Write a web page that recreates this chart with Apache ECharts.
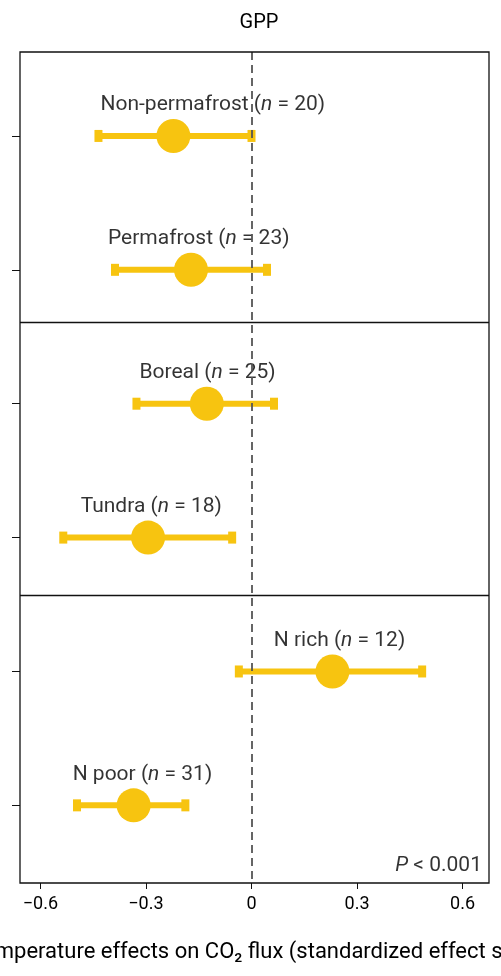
<!DOCTYPE html>
<html><head><meta charset="utf-8">
<script src="https://cdn.jsdelivr.net/npm/echarts@6/dist/echarts.min.js"></script>
<style>html,body{margin:0;background:#fff}#c{width:501px;height:976px}</style>
</head><body><div id="c"></div>
<script>
const groups = ['Non-permafrost','Permafrost','Boreal','Tundra','N rich','N poor'];
const counts = [20,23,25,18,12,31];
const means  = [-0.222,-0.172,-0.127,-0.294,0.230,-0.335];
const lower  = [-0.435,-0.388,-0.327,-0.535,-0.036,-0.496];
const upper  = [0.000,0.044,0.064,-0.055,0.485,-0.188];
const labelX = [-0.11,-0.15,-0.125,-0.285,0.25,-0.31];
const rows = [1,2,3,4,5,6];
const dividers = [2.39,4.43];
const xTicks = [-0.6,-0.3,0,0.3,0.6];
const col = '#F7C410';
const font = 'Roboto';
const txt = {fontFamily:font,fontSize:21,color:'#000',textBorderWidth:0};
const chart = echarts.init(document.getElementById('c'));
chart.setOption({
  animation:false,
  title:{text:'GPP',left:254,top:8,textAlign:'center',textStyle:{fontFamily:font,fontWeight:'normal',fontSize:20,color:'#000'}},
  grid:{left:20,right:12,top:52,bottom:93,containLabel:false,outerBoundsMode:'none'},
  xAxis:{type:'value',min:-0.658,max:0.675,
    axisLine:{show:false},splitLine:{show:false},
    axisTick:{show:true,customValues:xTicks,length:6,lineStyle:{color:'#111'}},
    axisLabel:{customValues:xTicks,fontFamily:font,fontSize:18,color:'#000',margin:12,
      formatter:v=>(v<0?'\u2212'+Math.abs(v):String(v))},
    name:'Temperature effects on CO\u2082 flux (standardized effect size)',nameLocation:'middle',nameGap:58,
    nameTextStyle:{fontFamily:font,fontSize:22,color:'#000'}},
  yAxis:{type:'value',inverse:true,min:0.373,max:6.58,position:'left',
    axisLine:{show:false,onZero:false},splitLine:{show:false},
    axisTick:{show:true,inside:false,length:8,customValues:rows,lineStyle:{color:'#111'}},
    axisLabel:{show:false,customValues:rows}},
  series:[
    {type:'custom',z:2,data:rows.map((r,i)=>[lower[i],upper[i],r]),
     renderItem:(p,api)=>{
       const a=api.coord([api.value(0),api.value(2)]),b=api.coord([api.value(1),api.value(2)]);
       return {type:'group',children:[
         {type:'line',shape:{x1:a[0],y1:a[1],x2:b[0],y2:b[1]},style:{stroke:col,lineWidth:6}},
         {type:'rect',shape:{x:a[0]-4,y:a[1]-6,width:8,height:12},style:{fill:col}},
         {type:'rect',shape:{x:b[0]-4,y:b[1]-6,width:8,height:12},style:{fill:col}}]};
     }},
    {type:'scatter',z:3,symbolSize:34,itemStyle:{color:col,opacity:1},data:rows.map((r,i)=>[means[i],r]),
     markLine:{silent:true,symbol:'none',label:{show:false},data:[
       {xAxis:0,lineStyle:{type:[8,5],color:'#555',width:1.8}},
       ...dividers.map(d=>({yAxis:d,lineStyle:{type:'solid',color:'#111',width:1.3}}))]}},
    {type:'scatter',z:4,symbolSize:0,data:rows.map((r,i)=>({value:[labelX[i],r-0.23],name:groups[i]})),
     label:Object.assign({show:true,position:'inside',
       formatter:p=>p.name+' ({i|n} = '+counts[p.dataIndex]+')',
       rich:{i:Object.assign({fontStyle:'italic'},txt)}},txt)},
    {type:'scatter',symbolSize:0,data:[[0.655,6.45]],
     label:Object.assign({show:true,position:'inside',align:'right',
       formatter:'{i|P} < 0.001',rich:{i:Object.assign({fontStyle:'italic'},txt)}},txt)}
  ],
  graphic:[{type:'rect',shape:{x:20,y:52,width:469,height:831},style:{fill:'none',stroke:'#111',lineWidth:1.3},z:10}]
});
</script></body></html>
